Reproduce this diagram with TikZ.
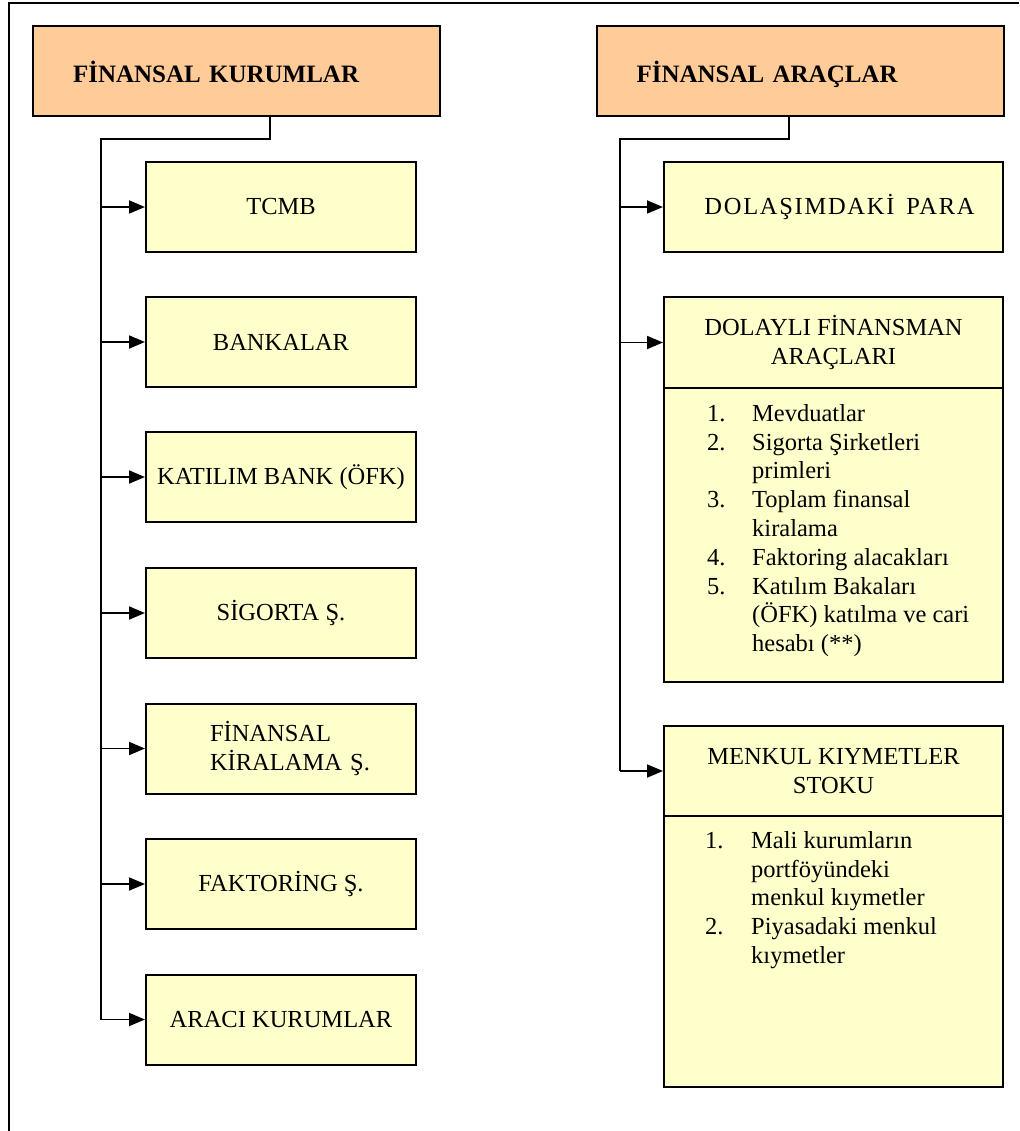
\documentclass[tikz,border=0pt]{standalone}
\usepackage{fontspec}
\setmainfont{Liberation Serif}
\usetikzlibrary{arrows.meta}
\definecolor{peach}{HTML}{FFCC99}
\definecolor{lyel}{HTML}{FFFFCC}
\begin{document}
\begin{tikzpicture}[x=1pt,y=-1pt,
  hdr/.style={draw, fill=peach, line width=2pt, minimum height=90pt, text width=327pt,
    inner xsep=40pt, inner ysep=0pt, align=left, text depth=0pt,
    font=\fontsize{25}{30}\selectfont\bfseries},
  ybox/.style={draw, fill=lyel, line width=2pt, minimum width=270pt, minimum height=90pt,
    inner sep=0pt, align=center, font=\fontsize{24.5}{29}\selectfont},
  rbox/.style={ybox, minimum width=339pt},
  listtxt/.style={anchor=north west, inner sep=0pt, align=left, font=\fontsize{24.5}{28.8}\selectfont},
  conn/.style={line width=1.8pt},
  arr/.style={conn, -{Triangle[length=16pt,width=13pt]}},
]
\useasboundingbox (0,0) rectangle (1019,1131);
% outer frame
\draw[line width=2pt] (9,1131) -- (9,3) -- (1019,3);

% headers
\node[hdr] (hL) at (236.5,71.5) {FİNANSAL KURUMLAR};
\node[hdr] (hR) at (800,71.5) {FİNANSAL ARAÇLAR};

% left boxes
\node[ybox] (tcmb) at (281,207) {TCMB};
\node[ybox] (bank) at (281,342) {BANKALAR};
\node[ybox] (kat) at (281,477) {KATILIM BANK (ÖFK)};
\node[ybox] (sig) at (281,613) {SİGORTA Ş.};
\node[ybox, text width=270pt, align=left] (fin) at (281,748.5) {\hspace*{64pt}FİNANSAL\\\hspace*{64pt}KİRALAMA Ş.};
\node[ybox] (fak) at (281,884) {FAKTORİNG Ş.};
\node[ybox] (ara) at (281,1019.5) {ARACI KURUMLAR};

% right boxes
\node[rbox] (dol) at (833.5,207) {\hspace*{12pt}\addfontfeature{LetterSpace=7}DOLAŞIMDAKİ\hspace{4pt} PARA};
\node[rbox, minimum height=91pt] (dfa) at (833.5,342.5) {DOLAYLI FİNANSMAN\\ARAÇLARI};
\node[rbox, minimum height=294pt] (dfab) at (833.5,535) {};
\node[rbox] (mks) at (833.5,771) {MENKUL KIYMETLER\\STOKU};
\node[rbox, minimum height=271pt] (mksb) at (833.5,951.5) {};

\node[listtxt] (l1) at (707,404) {%
\makebox[45pt][l]{1.}Mevduatlar\\
\makebox[45pt][l]{2.}Sigorta Şirketleri\\
\hspace*{45pt}primleri\\
\makebox[45pt][l]{3.}Toplam finansal\\
\hspace*{45pt}kiralama\\
\makebox[45pt][l]{4.}Faktoring alacakları\\
\makebox[45pt][l]{5.}Katılım Bakaları\\
\hspace*{45pt}(ÖFK) katılma ve cari\\
\hspace*{45pt}hesabı (**)};

\node[listtxt] (l2) at (705,831) {%
\makebox[46pt][l]{1.}Mali kurumların\\
\hspace*{46pt}portföyündeki\\
\hspace*{46pt}menkul kıymetler\\
\makebox[46pt][l]{2.}Piyasadaki menkul\\
\hspace*{46pt}kıymetler};

% left connectors
\coordinate (jL) at (270,139);
\coordinate (tL) at (101,139);
\draw[conn] (hL.south -| jL) -- (jL) -- (tL) -- (tL |- ara.west);
\draw[arr] (tL |- ara.west) -- (ara.west);
\foreach \n in {tcmb,bank,kat,sig,fin,fak}
  \draw[arr] (tL |- \n.west) -- (\n.west);

% right connectors
\coordinate (jR) at (789,139);
\coordinate (tR) at (620,139);
\draw[conn] (hR.south -| jR) -- (jR) -- (tR) -- (tR |- mks.west);
\draw[arr] (tR |- mks.west) -- (mks.west);
\draw[arr] (tR |- dol.west) -- (dol.west);
\draw[arr] (tR |- dfa.west) -- (dfa.west);
\end{tikzpicture}
\end{document}
